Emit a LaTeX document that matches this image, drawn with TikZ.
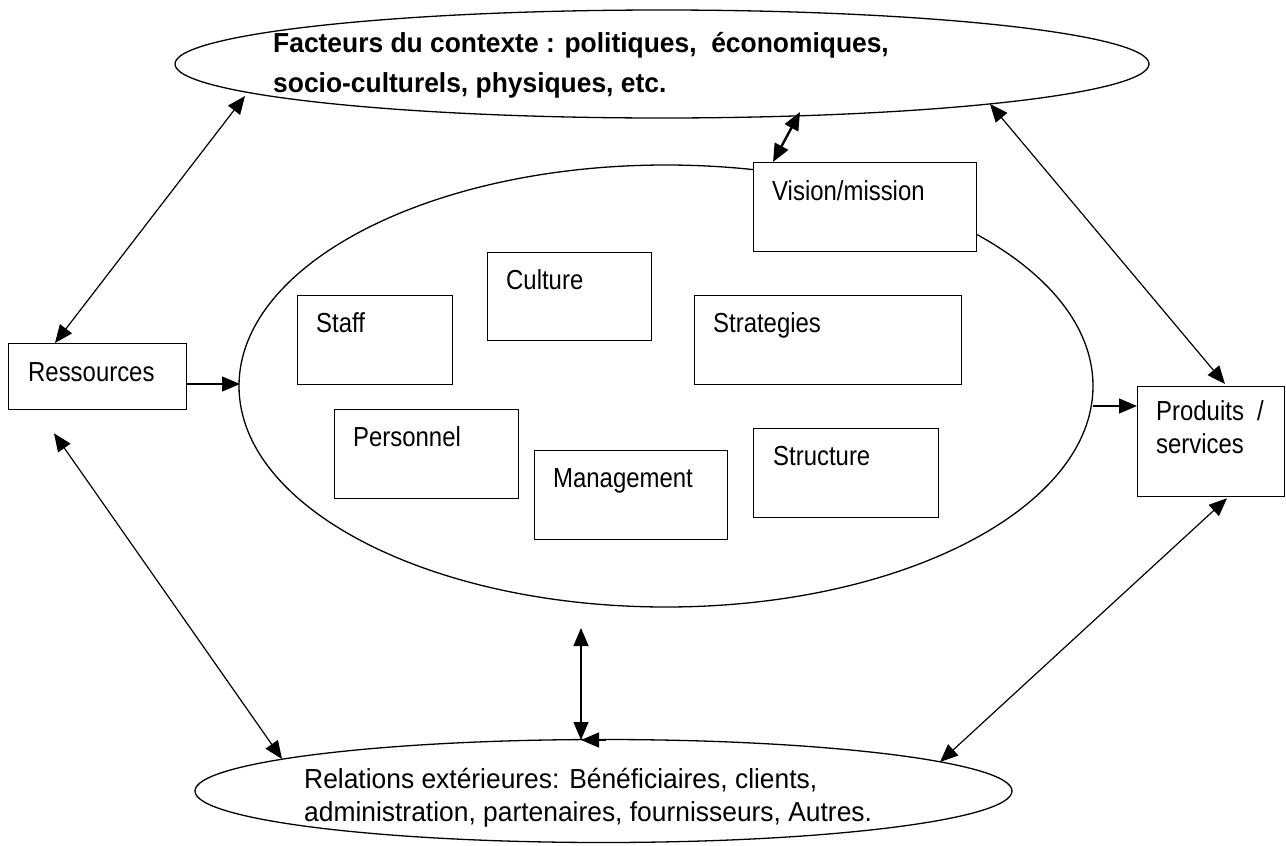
\documentclass[tikz,border=0pt]{standalone}
\usepackage{fontspec}
\setmainfont{Liberation Sans}[FakeStretch=0.87]
\newfontfamily\ovalfont{Liberation Sans}[FakeStretch=0.96]
\usetikzlibrary{arrows.meta,shapes.geometric}
\begin{document}
\begin{tikzpicture}[x=1pt,y=-1pt,
  txt/.style={font=\fontsize{27.5}{33}\selectfont, inner sep=0pt, anchor=base west},
  box/.style={draw, fill=white, line width=1.3pt, inner sep=0pt, anchor=north west},
  oval/.style={draw, ellipse, line width=1.3pt, inner sep=0pt},
  both/.style={line width=1.2pt, {Triangle[length=18pt,width=15pt]}-{Triangle[length=18pt,width=15pt]}},
  one/.style={line width=1.2pt, -{Triangle[length=18pt,width=15pt]}},
]
\useasboundingbox (0,0) rectangle (1286,846);

% outer ellipses: context factors and external relations
\node[oval, minimum width=974pt, minimum height=108pt] (ctx) at (662,64) {};
\node[txt, font=\ovalfont\fontsize{27.5}{40}\selectfont\bfseries, align=left, anchor=north west]
  (ctx-t) at (273,32) {Facteurs du contexte : politiques,~ économiques,\\socio-culturels, physiques, etc.};

\node[oval, minimum width=817pt, minimum height=103pt] (rel) at (603.5,791) {};
\node[txt, font=\ovalfont\fontsize{27.5}{33}\selectfont, align=left, anchor=north west]
  (rel-t) at (304,768) {Relations extérieures: Bénéficiaires, clients,\\administration, partenaires, fournisseurs, Autres.};

% the organisation
\node[oval, minimum width=854pt, minimum height=442pt] (org) at (666,386) {};

% boxes inside the organisation
\node[box, minimum width=155pt, minimum height=89pt] (staff) at (297,295) {};
\node[txt] (staff-t) at (316,332) {Staff};
\node[box, minimum width=164pt, minimum height=88pt] (cult) at (487,252) {};
\node[txt] (cult-t) at (506,289) {Culture};
\node[box, minimum width=184pt, minimum height=89pt] (pers) at (334,409) {};
\node[txt] (pers-t) at (353,446) {Personnel};
\node[box, minimum width=193pt, minimum height=89pt] (mgmt) at (534,450) {};
\node[txt] (mgmt-t) at (553,487) {Management};
\node[box, minimum width=267pt, minimum height=89pt] (strat) at (694,295) {};
\node[txt] (strat-t) at (713,332) {Strategies};
\node[box, minimum width=185pt, minimum height=89pt] (struc) at (753,428) {};
\node[txt] (struc-t) at (773,465) {Structure};
\node[box, minimum width=223pt, minimum height=89pt] (vis) at (753,162) {};
\node[txt] (vis-t) at (772,200) {Vision/mission};

% inputs and outputs
\node[box, minimum width=178pt, minimum height=66pt] (res) at (8,343) {};
\node[txt] (res-t) at (28,381) {Ressources};
\node[box, minimum width=147pt, minimum height=110pt] (prod) at (1137,386) {};
\node[txt, align=left, anchor=north west] (prod-t) at (1156,400) {Produits~ /\\services};

% connector end points on the ellipse borders
\coordinate (ctxL) at (245,96);
\coordinate (ctxV) at (800,112);
\coordinate (ctxR) at (990,104);
\coordinate (relL) at (282,759);
\coordinate (relM) at (581,740);
\coordinate (relR) at (940,762);
\coordinate (relA) at (606,740);
\coordinate (orgL) at (240,384);
\coordinate (orgR) at (1093,406);
\coordinate (orgB) at (581,628);

% connectors
\draw[both] (res.north west) ++(47,0) coordinate (resT) (resT) -- (ctxL);
\draw[both] (res.south west) ++(46,23) coordinate (resB) (resB) -- (relL);
\draw[one] (res.east |- orgL) -- (orgL);
\draw[both, line width=2.4pt] (vis.north west) ++(20,0) coordinate (visT) (visT) -- (ctxV);
\draw[both] (prod.north west) ++(88,-2) coordinate (prodT) (prodT) -- (ctxR);
\draw[one] (orgR) -- (prod.west |- orgR);
\draw[both] (prod.south west) ++(90,1) coordinate (prodB) (prodB) -- (relR);
\draw[both] (orgB) -- (relM);
\draw[one] (relA) -- (relM);
\end{tikzpicture}
\end{document}
